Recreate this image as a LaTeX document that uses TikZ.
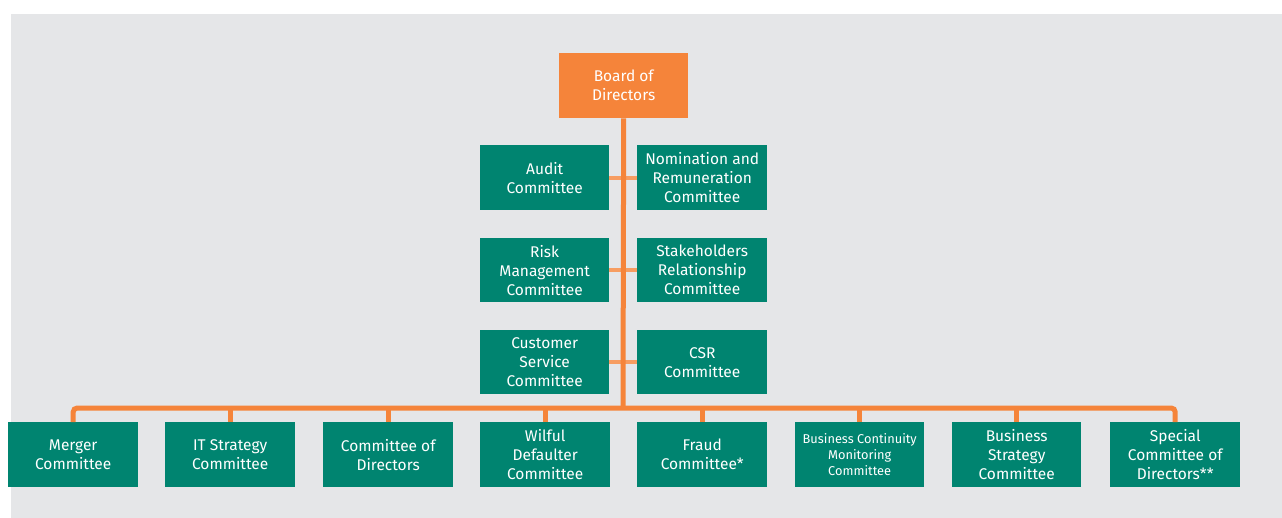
\documentclass[tikz,border=0pt]{standalone}
\usepackage{fontspec}
\setmainfont{Fira Sans}
\definecolor{bggray}{HTML}{E5E6E8}
\definecolor{orgc}{HTML}{F5843A}
\definecolor{grn}{HTML}{008470}
\begin{document}
\begin{tikzpicture}[x=1pt,y=-1pt,
  box/.style={fill=grn,text=white,minimum width=130pt,minimum height=65pt,inner sep=2pt,align=center,font=\fontsize{15.5}{19}\selectfont,anchor=north west},
  topbox/.style={box,fill=orgc},
  link/.style={draw=orgc,line width=5pt},
  stub/.style={draw=orgc!80!white,line width=4pt}]
\useasboundingbox (0,0) rectangle (1282,518);
\fill[bggray] (11,14) rectangle (1282,518);
\node[topbox,minimum width=129pt] (board) at (559,53) {Board of\\Directors};
\node[box,minimum width=129pt] (audit) at (480,145) {Audit\\Committee};
\node[box] (nom) at (637,145) {Nomination and\\Remuneration\\Committee};
\node[box,minimum width=129pt,minimum height=64pt] (risk) at (480,238) {Risk\\Management\\Committee};
\node[box,minimum height=64pt] (stake) at (637,238) {Stakeholders\\Relationship\\Committee};
\node[box,minimum width=129pt,minimum height=64pt] (cust) at (480,330) {Customer\\Service\\Committee};
\node[box,minimum height=64pt] (csr) at (637,330) {CSR\\Committee};
\coordinate (bus) at (623,408);
\node[box] (merger) at (8,422) {Merger\\Committee};
\node[box] (it) at (165,422) {IT Strategy\\Committee};
\node[box] (cod) at (323,422) {Committee of\\Directors};
\node[box] (wilful) at (480,422) {Wilful\\Defaulter\\Committee};
\node[box] (fraud) at (637,422) {Fraud\\Committee*};
\node[box,minimum width=129pt,font=\fontsize{12.8}{16}\selectfont] (bcm) at (795,422) {Business Continuity\\Monitoring\\Committee};
\node[box,minimum width=129pt] (bsc) at (952,422) {Business\\Strategy\\Committee};
\node[box] (special) at (1110,422) {Special\\Committee of\\Directors**};
% stubs
\draw[stub] (audit.east) -- (nom.west);
\draw[stub] (risk.east) -- (stake.west);
\draw[stub] (cust.east) -- (csr.west);
% trunk and bus
\draw[link] (board.south) -- (bus);
\draw[link,rounded corners=4pt] (merger.north) |- (bus) -| (special.north);
\foreach \n in {it,cod,wilful,fraud,bcm,bsc}
  \draw[link] (\n.north) -- (\n.north |- bus);
\end{tikzpicture}
\end{document}
